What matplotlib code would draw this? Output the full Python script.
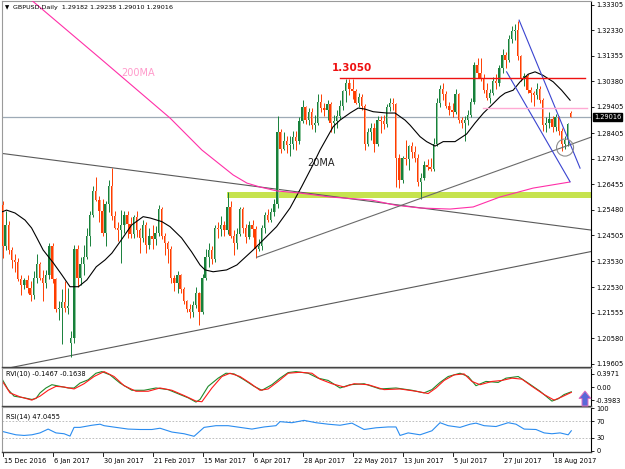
import matplotlib
matplotlib.use("Agg")
import matplotlib.pyplot as plt
import matplotlib.transforms as mtransforms
from matplotlib.patches import Rectangle, Ellipse, Polygon

plt.rcParams['font.family'] = ['DejaVu Sans']

# ---- daily candles, bar 0 = 15 Dec 2016, one bar per weekday ----
opens = [1.2565, 1.2410, 1.2490, 1.2395, 1.2355, 1.2350, 1.2285, 1.2260, 1.2280, 1.2250,
         1.2225, 1.2290, 1.2340, 1.2290, 1.2270, 1.2300, 1.2410, 1.2285, 1.2170, 1.2175,
         1.2195, 1.2175, 1.2040, 1.2060, 1.2400, 1.2290, 1.2340, 1.2370, 1.2450, 1.2530,
         1.2620, 1.2585, 1.2545, 1.2460, 1.2570, 1.2640, 1.2525, 1.2480, 1.2470, 1.2490,
         1.2530, 1.2495, 1.2455, 1.2520, 1.2470, 1.2440, 1.2490, 1.2415, 1.2450, 1.2435,
         1.2460, 1.2550, 1.2450, 1.2420, 1.2400, 1.2290, 1.2270, 1.2300, 1.2245, 1.2200,
         1.2170, 1.2160, 1.2185, 1.2230, 1.2160, 1.2290, 1.2370, 1.2395, 1.2360, 1.2480,
         1.2475, 1.2490, 1.2470, 1.2560, 1.2450, 1.2420, 1.2455, 1.2550, 1.2480, 1.2445,
         1.2490, 1.2475, 1.2400, 1.2410, 1.2480, 1.2530, 1.2510, 1.2540, 1.2570, 1.2845,
         1.2780, 1.2810, 1.2795, 1.2800, 1.2825, 1.2810, 1.2885, 1.2940, 1.2890, 1.2920,
         1.2870, 1.2880, 1.2960, 1.2935, 1.2930, 1.2950, 1.2880, 1.2885, 1.2905, 1.2945,
         1.3000, 1.3030, 1.3010, 1.3000, 1.2955, 1.2980, 1.2945, 1.2800, 1.2845, 1.2860,
         1.2800, 1.2890, 1.2885, 1.2875, 1.2940, 1.2955, 1.2950, 1.2745, 1.2660, 1.2745,
         1.2740, 1.2790, 1.2770, 1.2745, 1.2655, 1.2670, 1.2720, 1.2710, 1.2705, 1.2800,
         1.2955, 1.3010, 1.2990, 1.2945, 1.2930, 1.2920, 1.2990, 1.2890, 1.2880, 1.2890,
         1.2910, 1.2960, 1.3100, 1.3070, 1.3050, 1.3005, 1.2975, 1.2995, 1.3040, 1.3030,
         1.3090, 1.3140, 1.3120, 1.3200, 1.3230, 1.3235, 1.3135, 1.3050, 1.3060, 1.3005,
         1.2995, 1.2985, 1.3010, 1.2965, 1.2870, 1.2880, 1.2895, 1.2865, 1.2900, 1.2850,
         1.2800, 1.2815, 1.29182]
highs = [1.2580, 1.2545, 1.2505, 1.2405, 1.2380, 1.2365, 1.2300, 1.2290, 1.2300, 1.2275,
         1.2315, 1.2380, 1.2350, 1.2320, 1.2320, 1.2420, 1.2420, 1.2290, 1.2200, 1.2245,
         1.2275, 1.2250, 1.2085, 1.2415, 1.2415, 1.2370, 1.2415, 1.2480, 1.2545, 1.2640,
         1.2674, 1.2600, 1.2590, 1.2580, 1.2660, 1.2706, 1.2545, 1.2500, 1.2548, 1.2545,
         1.2545, 1.2520, 1.2530, 1.2545, 1.2480, 1.2510, 1.2500, 1.2480, 1.2490, 1.2485,
         1.2565, 1.2560, 1.2460, 1.2430, 1.2410, 1.2300, 1.2315, 1.2305, 1.2255, 1.2205,
         1.2190, 1.2200, 1.2255, 1.2235, 1.2305, 1.2400, 1.2420, 1.2410, 1.2490, 1.2500,
         1.2525, 1.2505, 1.2615, 1.2580, 1.2470, 1.2480, 1.2560, 1.2560, 1.2495, 1.2505,
         1.2510, 1.2485, 1.2435, 1.2490, 1.2540, 1.2550, 1.2555, 1.2590, 1.2905, 1.2855,
         1.2845, 1.2830, 1.2830, 1.2850, 1.2850, 1.2900, 1.2965, 1.2945, 1.2935, 1.2935,
         1.2910, 1.2990, 1.2990, 1.2955, 1.2965, 1.2960, 1.2910, 1.2930, 1.2965, 1.3005,
         1.3048, 1.3048, 1.3045, 1.3010, 1.2995, 1.2990, 1.2950, 1.2860, 1.2880, 1.2880,
         1.2905, 1.2905, 1.2910, 1.2950, 1.2975, 1.2975, 1.2955, 1.2760, 1.2755, 1.2815,
         1.2795, 1.2805, 1.2790, 1.2760, 1.2690, 1.2735, 1.2740, 1.2745, 1.2820, 1.2975,
         1.3025, 1.3030, 1.3000, 1.2960, 1.2955, 1.3010, 1.2995, 1.2900, 1.2905, 1.2930,
         1.2975, 1.3110, 1.3125, 1.3125, 1.3065, 1.3030, 1.3010, 1.3055, 1.3065, 1.3100,
         1.3160, 1.3150, 1.3215, 1.3250, 1.3255, 1.3267, 1.3140, 1.3070, 1.3065, 1.3015,
         1.3000, 1.3030, 1.3020, 1.2975, 1.2900, 1.2920, 1.2905, 1.2915, 1.2905, 1.2860,
         1.2830, 1.2880, 1.29238]
lows = [1.2365, 1.2395, 1.2380, 1.2325, 1.2310, 1.2275, 1.2225, 1.2245, 1.2230, 1.2200,
        1.2210, 1.2270, 1.2280, 1.2200, 1.2250, 1.2285, 1.2270, 1.2160, 1.2130, 1.2035,
        1.2160, 1.2150, 1.1986, 1.2040, 1.2255, 1.2260, 1.2300, 1.2360, 1.2410, 1.2520,
        1.2580, 1.2500, 1.2450, 1.2410, 1.2540, 1.2510, 1.2475, 1.2430, 1.2345, 1.2460,
        1.2440, 1.2440, 1.2440, 1.2445, 1.2385, 1.2425, 1.2385, 1.2400, 1.2400, 1.2415,
        1.2450, 1.2435, 1.2375, 1.2345, 1.2270, 1.2240, 1.2230, 1.2230, 1.2190, 1.2160,
        1.2135, 1.2140, 1.2175, 1.2109, 1.2150, 1.2280, 1.2330, 1.2340, 1.2350, 1.2440,
        1.2450, 1.2450, 1.2455, 1.2440, 1.2375, 1.2400, 1.2450, 1.2460, 1.2420, 1.2435,
        1.2445, 1.2365, 1.2390, 1.2395, 1.2460, 1.2500, 1.2500, 1.2525, 1.2555, 1.2765,
        1.2775, 1.2765, 1.2755, 1.2780, 1.2775, 1.2800, 1.2880, 1.2875, 1.2870, 1.2855,
        1.2845, 1.2870, 1.2920, 1.2905, 1.2890, 1.2845, 1.2840, 1.2860, 1.2895, 1.2930,
        1.2960, 1.2985, 1.2970, 1.2950, 1.2940, 1.2930, 1.2775, 1.2790, 1.2815, 1.2770,
        1.2790, 1.2840, 1.2855, 1.2865, 1.2925, 1.2930, 1.2635, 1.2630, 1.2650, 1.2720,
        1.2700, 1.2745, 1.2730, 1.2640, 1.2589, 1.2660, 1.2700, 1.2695, 1.2695, 1.2790,
        1.2940, 1.2965, 1.2935, 1.2910, 1.2900, 1.2915, 1.2880, 1.2860, 1.2812, 1.2870,
        1.2900, 1.2950, 1.3050, 1.3040, 1.2995, 1.2965, 1.2955, 1.2985, 1.3010, 1.3020,
        1.3070, 1.3090, 1.3110, 1.3185, 1.3195, 1.3120, 1.3040, 1.3020, 1.2995, 1.2960,
        1.2945, 1.2970, 1.2955, 1.2850, 1.2845, 1.2860, 1.2845, 1.2850, 1.2835, 1.2774,
        1.2780, 1.2790, 1.29010]
closes = [1.2410, 1.2490, 1.2395, 1.2355, 1.2350, 1.2285, 1.2260, 1.2280, 1.2250, 1.2225,
          1.2290, 1.2340, 1.2290, 1.2270, 1.2300, 1.2410, 1.2285, 1.2170, 1.2175, 1.2195,
          1.2175, 1.2180, 1.2060, 1.2400, 1.2290, 1.2340, 1.2370, 1.2450, 1.2530, 1.2620,
          1.2585, 1.2545, 1.2460, 1.2570, 1.2640, 1.2525, 1.2480, 1.2470, 1.2490, 1.2530,
          1.2495, 1.2455, 1.2520, 1.2470, 1.2440, 1.2490, 1.2415, 1.2450, 1.2435, 1.2460,
          1.2550, 1.2450, 1.2420, 1.2400, 1.2290, 1.2270, 1.2300, 1.2245, 1.2200, 1.2170,
          1.2160, 1.2185, 1.2230, 1.2160, 1.2290, 1.2370, 1.2395, 1.2360, 1.2480, 1.2475,
          1.2490, 1.2470, 1.2560, 1.2450, 1.2420, 1.2455, 1.2550, 1.2480, 1.2445, 1.2490,
          1.2475, 1.2400, 1.2410, 1.2480, 1.2530, 1.2510, 1.2540, 1.2570, 1.2845, 1.2780,
          1.2810, 1.2795, 1.2800, 1.2825, 1.2810, 1.2885, 1.2940, 1.2890, 1.2920, 1.2870,
          1.2880, 1.2960, 1.2935, 1.2930, 1.2950, 1.2880, 1.2885, 1.2905, 1.2945, 1.3000,
          1.3030, 1.3010, 1.3000, 1.2955, 1.2980, 1.2945, 1.2800, 1.2845, 1.2860, 1.2800,
          1.2890, 1.2885, 1.2875, 1.2940, 1.2955, 1.2950, 1.2745, 1.2660, 1.2745, 1.2740,
          1.2790, 1.2770, 1.2745, 1.2655, 1.2670, 1.2720, 1.2710, 1.2705, 1.2800, 1.2955,
          1.3010, 1.2990, 1.2945, 1.2930, 1.2920, 1.2990, 1.2890, 1.2880, 1.2890, 1.2910,
          1.2960, 1.3100, 1.3070, 1.3050, 1.3005, 1.2975, 1.2995, 1.3040, 1.3030, 1.3090,
          1.3140, 1.3120, 1.3200, 1.3230, 1.3235, 1.3135, 1.3050, 1.3060, 1.3005, 1.2995,
          1.2985, 1.3010, 1.2965, 1.2870, 1.2880, 1.2895, 1.2865, 1.2900, 1.2850, 1.2800,
          1.2815, 1.2875, 1.29016]

# moving averages (bar index, price)
ma20_bars = [0, 1.3, 4, 7.2, 9.3, 11, 13, 16.3, 19, 21.6, 24.3, 27, 30, 32.8, 35, 38, 41.3, 45,
             47.2, 51, 53.6, 57.3, 60.5, 63.2, 64.8, 67.4, 71.7, 75, 80.2, 84.5, 87.7, 92,
             95.7, 99, 101.6, 105.8, 108, 111.2, 113.8, 116, 118.6, 123, 125.6, 128.8, 130.4,
             133.6, 135.7, 138.4, 141, 144.8, 148.5, 151.2, 153.9, 156.5, 159.2, 160.8, 163.4,
             165.6, 168.2, 170.4, 172.9, 176.2, 178.9, 181.6]
ma20_vals = [1.2541, 1.2547, 1.2536, 1.2509, 1.2479, 1.2441, 1.2395, 1.2345, 1.2300, 1.2255,
             1.2255, 1.2281, 1.2331, 1.2357, 1.2383, 1.2433, 1.2490, 1.2522, 1.2517, 1.2503,
             1.2484, 1.2441, 1.2388, 1.2338, 1.2319, 1.2312, 1.2319, 1.2338, 1.2395, 1.2446,
             1.2484, 1.2555, 1.2636, 1.2712, 1.2776, 1.2865, 1.2890, 1.2917, 1.2936, 1.2932,
             1.2922, 1.2917, 1.2917, 1.2890, 1.2871, 1.2827, 1.2808, 1.2791, 1.2808, 1.2808,
             1.2837, 1.2879, 1.2917, 1.2947, 1.2979, 1.2993, 1.3004, 1.3036, 1.3065, 1.3074,
             1.3061, 1.3036, 1.3004, 1.2966]
ma200_bars = [7.2, 9.3, 31.2, 53.6, 63.8, 73.8, 78.2, 82.4, 87.8, 95.2, 104.8, 118.2, 125.6,
              133.6, 143.2, 150.6, 159.2, 169.8, 181.5]
ma200_vals = [1.3370, 1.3347, 1.3126, 1.2898, 1.2776, 1.2681, 1.2650, 1.2635, 1.2620, 1.2612,
              1.2597, 1.2585, 1.2566, 1.2555, 1.2551, 1.2559, 1.2597, 1.2631, 1.2654]

# RVI(10): main (green) and signal (red)
rvi_bars = [0, 1.8, 3.7, 6.9, 9.4, 10.7, 12, 13.9, 15.8, 18.4, 21, 22.9, 24.8, 27.4, 29.9, 31.8,
            34.4, 37.6, 41.4, 45.3, 49.1, 53, 56.8, 59.4, 61.9, 63.2, 65.8, 69, 71.5, 74.1,
            77.3, 80.5, 83, 86.2, 88.8, 91.4, 93.9, 97.8, 101, 104.2, 108, 111.2, 115.7,
            120.8, 125.9, 131, 134.9, 137.4, 140, 142.6, 146.4, 149, 151.5, 154.7, 158.6,
            161.1, 165, 168.2, 172, 175.8, 177.8, 179.7, 182]
rvi_main = [0.22, -0.08, -0.28, -0.33, -0.38, -0.35, -0.18, -0.03, 0.07, 0.02, -0.03, -0.03,
            0.12, 0.22, 0.42, 0.47, 0.37, 0.12, -0.10, -0.10, -0.03, -0.08, -0.23, -0.33,
            -0.46, -0.38, 0.02, 0.27, 0.42, 0.40, 0.22, 0.02, -0.10, 0.07, 0.27, 0.44, 0.47,
            0.42, 0.27, 0.20, -0.03, 0.07, 0.10, -0.06, -0.03, -0.10, -0.18, -0.08, 0.14,
            0.32, 0.42, 0.32, 0.04, 0.17, 0.14, 0.27, 0.32, 0.12, -0.13, -0.43, -0.36, -0.23,
            -0.1467]
sig_bars = [0, 2.4, 5.6, 9.4, 12, 14.6, 17.1, 19.7, 22.9, 26.1, 29.3, 32.5, 35.7, 38.9, 42.7,
            46.6, 50.4, 54.2, 58.1, 61.9, 63.8, 67, 70.2, 72.8, 76, 79.2, 82.4, 85, 88.2,
            91.4, 95.2, 99, 101.6, 105.4, 109.3, 112.5, 117, 122.1, 127.2, 132.3, 136.2,
            138.7, 141.3, 144.5, 147.7, 150.2, 152.8, 156.6, 159.8, 163, 166.2, 169.4, 173.3,
            176.5, 179, 182]
rvi_signal = [0.17, -0.18, -0.30, -0.40, -0.28, -0.10, 0.02, 0.0, -0.06, 0.10, 0.32, 0.47,
              0.32, 0.04, -0.13, -0.13, -0.03, -0.10, -0.26, -0.43, -0.45, -0.03, 0.32, 0.42,
              0.32, 0.12, -0.10, -0.06, 0.17, 0.42, 0.45, 0.42, 0.24, 0.10, 0.0, 0.10, 0.07,
              -0.08, -0.06, -0.13, -0.20, -0.03, 0.20, 0.37, 0.40, 0.17, 0.07, 0.17, 0.20,
              0.27, 0.24, 0.02, -0.23, -0.40, -0.30, -0.1638]

# RSI(14)
rsi_bars = [0.2, 1.8, 4.3, 6.9, 9.4, 12, 14.6, 17.1, 19.7, 21.6, 22.9, 24.8, 28.6, 31.2, 32.5,
            36.3, 40.2, 44, 47.8, 50.4, 54.2, 58.1, 61.3, 64.5, 68.3, 72.2, 76, 79.8, 83.7,
            87.5, 88.8, 92.6, 96.5, 100.3, 104.2, 108, 111.8, 115.7, 119.5, 123.4, 125.9,
            127.2, 129.8, 133.6, 137.4, 140, 142.6, 146.4, 149.6, 151.5, 154.1, 157.9, 161.8,
            164.3, 166.9, 170.7, 173.3, 175.8, 178.4, 181, 182]
rsi_vals = [45, 42, 37.5, 36, 37.5, 42, 51, 42, 40, 34.5, 55, 55, 60, 62.5, 59, 55, 51, 50, 50,
            53, 44, 40, 34, 55, 59, 59, 55, 51, 56, 59, 68.5, 66, 71.5, 66, 62.5, 60, 65, 50,
            54, 56, 56, 36, 42, 37.5, 47, 66, 59, 55, 62.5, 65, 59, 57, 66, 62.5, 51, 50, 42,
            40, 42, 37.5, 47.05]

price_ticks = [1.33305, 1.32330, 1.31355, 1.30380, 1.29405, 1.28405, 1.27430, 1.26455,
               1.25480, 1.24505, 1.23530, 1.22530, 1.21555, 1.20580, 1.19605]
date_labels = ['15 Dec 2016', '6 Jan 2017', '30 Jan 2017', '21 Feb 2017', '15 Mar 2017',
               '6 Apr 2017', '28 Apr 2017', '22 May 2017', '13 Jun 2017', '5 Jul 2017',
               '27 Jul 2017', '18 Aug 2017']
date_bars = [0, 16, 32, 48, 64, 80, 96, 112, 128, 144, 160, 176]

# drawn objects (bar, price)
resistance = 1.3050
pink_level = 1.2935
zone_low, zone_high = 1.2592, 1.2617
last_price = 1.29016

W, H = 625, 469
FS = 4.8


def fx(x):
    return x / W


def fy(y):
    return 1 - y / H


def box(x0, y0, x1, y1):
    return [fx(x0), fy(y1), (x1 - x0) / W, (y1 - y0) / H]


fig = plt.figure(figsize=(6.25, 4.69), dpi=100)
ax = fig.add_axes(box(2, 1, 591, 367))
ax_rvi = fig.add_axes(box(2, 368, 591, 406))
ax_rsi = fig.add_axes(box(2, 407, 591, 452))

xmin, xmax = -0.16, 188.3
for a in (ax, ax_rvi, ax_rsi):
    a.set_xlim(xmin, xmax)
    a.set_xticks([])
    a.yaxis.tick_right()
    a.tick_params(axis='y', length=2.5, width=0.6, pad=1.2, labelsize=FS, colors='black')
    for s in ('left', 'top'):
        a.spines[s].set_color('#9a9a9a')
        a.spines[s].set_linewidth(0.8)
    a.spines['right'].set_color('black')
    a.spines['right'].set_linewidth(0.8)
    a.spines['bottom'].set_color('#404040')
    a.spines['bottom'].set_linewidth(1.0)

# ---- main price panel ----
ax.set_ylim(1.1949, 1.3344)
ax.set_yticks(price_ticks)
ax.set_yticklabels(['%.5f' % p for p in price_ticks])

# support zone
ax.add_patch(Rectangle((71.9, zone_low), xmax - 71.9, zone_high - zone_low,
                       facecolor='#c6e34e', edgecolor='none', zorder=1))

# candles
for i in range(len(opens)):
    o, h, l, c = opens[i], highs[i], lows[i], closes[i]
    up = c >= o
    col = '#17803a' if up else '#ff3d00'
    pale = '#8cc49c' if up else '#ff9a78'
    ax.plot([i, i], [l, h], color=col, lw=0.7, zorder=3, solid_capstyle='butt')
    lo, hi = min(o, c), max(o, c)
    if hi - lo < 0.0003:
        hi = lo + 0.0003
    ax.add_patch(Rectangle((i - 0.4, lo), 0.45, hi - lo, facecolor=col,
                           edgecolor='none', zorder=4))
    ax.add_patch(Rectangle((i + 0.05, lo), 0.33, hi - lo, facecolor=pale,
                           edgecolor='none', zorder=4))

# moving averages
ax.plot(ma20_bars, ma20_vals, color='black', lw=0.8, zorder=5)
ax.plot(ma200_bars, ma200_vals, color='#ff2fa8', lw=0.8, zorder=5)

# trend lines
ax.plot([-0.8, 188.3], [1.2764, 1.2471], color='#5a5a5a', lw=0.8, zorder=2)
ax.plot([-1, 188.3], [1.1938, 1.2389], color='#5a5a5a', lw=0.8, zorder=2)
ax.plot([81.3, 188.3], [1.2367, 1.2825], color='#6a6a6a', lw=0.8, zorder=6)
ax.plot([165.3, 184.8], [1.3271, 1.2707], color='#3a44d0', lw=0.8, zorder=6)
ax.plot([161.3, 181.6], [1.3074, 1.2655], color='#3a44d0', lw=0.8, zorder=6)

# levels
ax.plot([108, 186.4], [resistance, resistance], color='#ee1111', lw=1.0, zorder=6)
ax.plot([153.8, 187], [pink_level, pink_level], color='#ffaad4', lw=1.0, zorder=6)
ax.axhline(last_price, color='#9eaab6', lw=0.9, zorder=2)

ax.add_patch(Ellipse((180, 1.27854), 5.44, 0.0065, facecolor='none',
                     edgecolor='#8c8c8c', lw=0.8, zorder=7))

ax.text(111.7, 1.3090, '1.3050', color='#ee1111', fontsize=7.5, fontweight='bold',
        ha='center', va='center')
ax.text(101.9, 1.2726, '20MA', color='#222222', fontsize=7, ha='center', va='center')
ax.text(43.4, 1.3071, '200MA', color='#ff9acb', fontsize=7, ha='center', va='center')

fig.text(fx(5), fy(8), '\u25bc', fontsize=4, va='center', ha='left')
fig.text(fx(13), fy(8), 'GBPUSD,Daily  1.29182 1.29238 1.29010 1.29016',
         fontsize=4.6, va='center', ha='left')

fig.text(fx(594), fy(116.7), '%.5f' % last_price, color='white', fontsize=FS,
         va='center', ha='left',
         bbox=dict(facecolor='black', edgecolor='black', pad=0.8))

# ---- RVI panel ----
ax_rvi.set_ylim(-0.58, 0.58)
ax_rvi.set_yticks([0.3971, 0.0, -0.3983])
ax_rvi.set_yticklabels(['0.3971', '0.00', '-0.3983'])
ax_rvi.plot(rvi_bars, rvi_main, color='#1f8a2a', lw=0.8)
ax_rvi.plot(sig_bars, rvi_signal, color='#ff1a1a', lw=0.8)
ax_rvi.text(0.006, 0.84, 'RVI(10) -0.1467 -0.1638', transform=ax_rvi.transAxes,
            fontsize=FS, va='center', ha='left')

arrow = [(585, 391), (591, 398.5), (588, 398.5), (588, 406), (582, 406), (582, 398.5),
         (579, 398.5)]
fig.patches.append(Polygon([(fx(x), fy(y)) for x, y in arrow], closed=True,
                           transform=fig.transFigure, facecolor='#5a68d8',
                           edgecolor='#e070c0', lw=0.7, zorder=10))

# ---- RSI panel ----
ax_rsi.set_ylim(-3, 103)
ax_rsi.set_yticks([100, 70, 30, 0])
ax_rsi.set_yticklabels(['100', '70', '30', '0'])
for lvl in (30, 70):
    ax_rsi.axhline(lvl, color='#b4b4b4', lw=0.6, ls=(0, (2, 2)))
ax_rsi.plot(rsi_bars, rsi_vals, color='#2a8cf0', lw=0.8)
ax_rsi.text(0.006, 0.78, 'RSI(14) 47.0455', transform=ax_rsi.transAxes,
            fontsize=FS, va='center', ha='left')

# date axis
trans = mtransforms.blended_transform_factory(ax_rsi.transData, fig.transFigure)
for b, lab in zip(date_bars, date_labels):
    ax_rsi.plot([b, b], [fy(452), fy(456)], color='black', lw=0.6, transform=trans,
                clip_on=False)
    ax_rsi.text(b + 0.4, fy(460.5), lab, transform=trans, fontsize=FS, ha='left',
                va='center')

fig.savefig('out.png', dpi=100)
